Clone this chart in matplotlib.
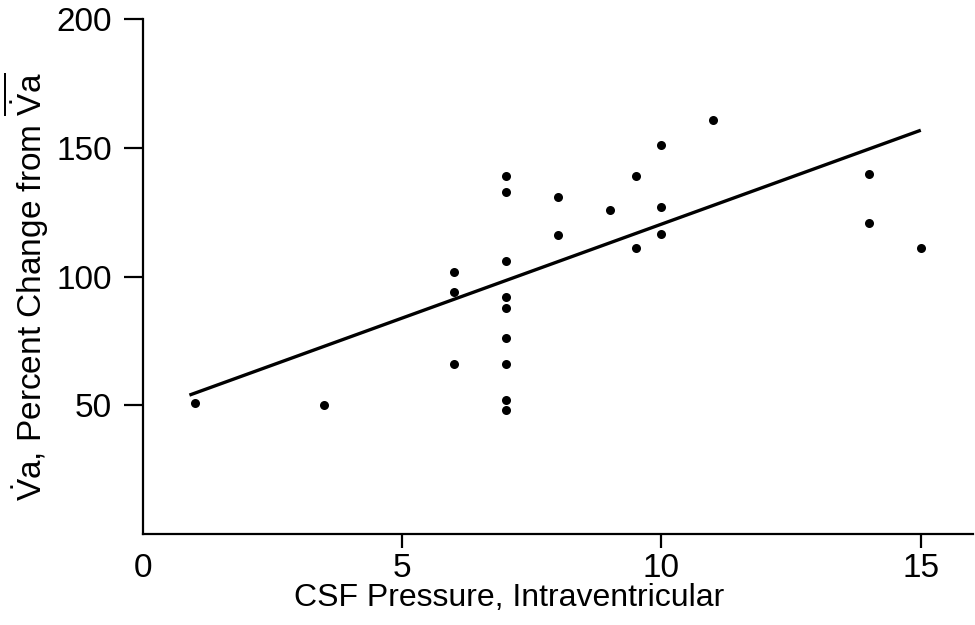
import matplotlib
matplotlib.use("Agg")
import matplotlib.pyplot as plt

plt.rcParams["font.family"] = ["Liberation Sans", "DejaVu Sans"]
plt.rcParams["mathtext.fontset"] = "custom"
plt.rcParams["mathtext.rm"] = "Liberation Sans"
plt.rcParams["mathtext.it"] = "Liberation Sans:italic"

# CSF pressure (x) vs percent change (y)
csf_pressure = [1, 3.5, 6, 6, 6,
                7, 7, 7, 7, 7, 7, 7, 7, 7,
                8, 8, 9, 9.5, 9.5, 10, 10, 10, 11, 14, 14, 15]
pct_change = [51, 50, 102, 94, 66,
              139, 133, 106, 92, 88, 76, 66, 52, 48,
              131, 116, 126, 139, 111, 151, 127, 116.5, 161, 140, 121, 111]

# regression line as drawn in the figure
fit_intercept = 47.4
fit_slope = 7.3
fit_span = [0.9, 15.0]

x_ticks = [0, 5, 10, 15]
y_ticks = [50, 100, 150, 200]

fig = plt.figure(figsize=(9.75, 6.25), dpi=100)
ax = fig.add_axes([0.1464, 0.1456, 0.8512, 0.8235])

ax.plot(csf_pressure, pct_change, "o", color="black", markersize=6.5, markeredgewidth=0)
fit_y = [fit_intercept + fit_slope * v for v in fit_span]
ax.plot(fit_span, fit_y, color="black", linewidth=2.4, solid_capstyle="butt")

ax.set_xlim(0, 16)
ax.set_ylim(0, 200)
ax.set_xticks(x_ticks)
ax.set_yticks(y_ticks)
ax.spines["top"].set_visible(False)
ax.spines["right"].set_visible(False)
for s in ("left", "bottom"):
    ax.spines[s].set_linewidth(1.6)

ax.tick_params(axis="y", direction="out", length=14, width=1.6, pad=8, labelsize=24)
ax.tick_params(axis="x", direction="out", length=10, width=1.6, pad=4, labelsize=24)
ax.xaxis.get_major_ticks()[0].tick1line.set_visible(False)

fig.text(509 / 975, 1 - 606 / 625, "CSF Pressure, Intraventricular",
         ha="center", va="baseline", fontsize=23)
fig.text(42 / 975, 1 - 287 / 625,
         r"$\dot{\mathrm{V}}\mathrm{a}$, Percent Change from "
         r"$\overline{\dot{\mathrm{V}}\mathrm{a}}$",
         rotation=90, rotation_mode="anchor", ha="center", va="baseline",
         fontsize=24)

fig.savefig("out.png", dpi=100)
